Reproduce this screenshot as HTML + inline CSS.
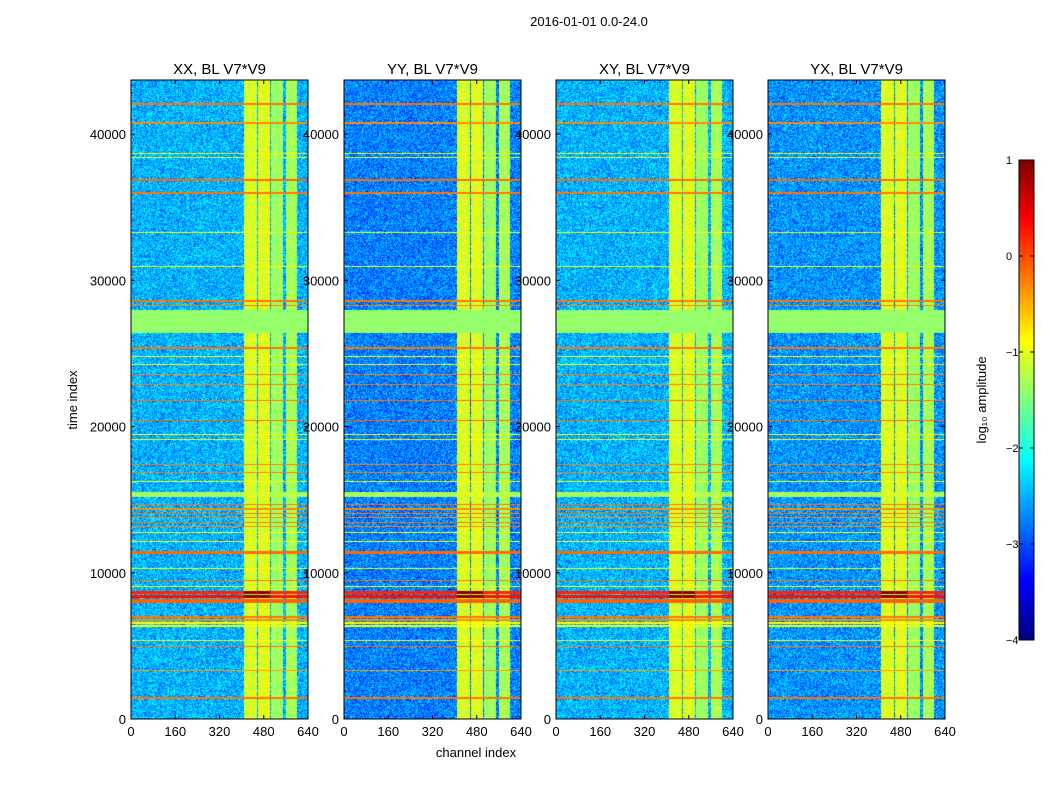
<!DOCTYPE html>
<html><head><meta charset="utf-8"><style>
body{margin:0;background:#fff;width:1050px;height:800px;overflow:hidden;position:relative;font-family:"Liberation Sans",sans-serif}
canvas{position:absolute}
svg{position:absolute;left:0;top:0}
</style></head><body>
<div id="root"></div>
<svg id="ov" width="1050" height="800"></svg>
<script>
// ---- data ----
const panelTitles = ["XX, BL V7*V9","YY, BL V7*V9","XY, BL V7*V9","YX, BL V7*V9"];
const panelLeft = [131,344,556,768];
const xTicks = [0,160,320,480,640];
const yTicks = [0,10000,20000,30000,40000];
const cbTicks = [1,0,-1,-2,-3,-4];
const bandStart = [405,456,506,557];
const bandEnd = [452,499,549,600];
const bandLevel = [-1.05,-1.0,-1.35,-1.3];
const rowTime = [42100,40800,38700,38450,36900,36000,33300,31000,28600,28300,25400,24800,24300,23600,22900,21800,20450,19500,19150,17440,16900,16280,15400,14700,14400,14100,13800,13500,13200,12800,12200,11400,10300,9500,9100,8700,8400,8100,7000,6800,6600,6400,5400,5000,3350,1450];
const rowWidth = [80,60,50,50,110,80,50,50,80,60,60,50,50,60,60,60,90,70,60,60,60,50,350,50,50,50,50,50,50,50,50,200,50,80,50,200,200,200,60,50,50,50,50,80,50,80];
const rowLevel = [-0.2,-0.3,-1.0,-1.0,-0.15,-0.2,-0.9,-0.9,-0.2,-0.25,-0.2,-0.9,-0.9,-0.25,-0.25,-0.2,-0.15,-0.9,-0.9,-0.25,-0.25,-0.9,-1.3,-0.2,-0.3,-0.2,-0.3,-0.2,-0.3,-0.9,-0.9,-0.15,-0.9,-0.2,-0.9,0.2,0.3,-0.1,-0.2,-0.3,-0.9,-0.9,-0.9,-0.2,-0.4,-0.2];
const blockStart = 26400, blockEnd = 28000, blockLevel = -1.4;
const bgLevel = [-2.5,-2.75,-2.5,-2.65];
// ---- scales ----
const W=177,H=639,TOP=80,TMAX=43700,CMAX=640;
const xs = c => c/CMAX*W;
const ys = t => H - t/TMAX*H;
function jet(v){let t=(v+4)/5;t=Math.max(0,Math.min(1,t));const f=x=>Math.max(0,Math.min(1,x));return [f(1.5-Math.abs(4*t-3))*255,f(1.5-Math.abs(4*t-2))*255,f(1.5-Math.abs(4*t-1))*255];}
function hash(a,b,c){let h=(a*374761393+b*668265263+c*2147483647)|0;h=(h^(h>>>13))*1274126177|0;return ((h^(h>>>16))>>>0)/4294967296;}
panelLeft.forEach((L,p)=>{
  const cv=document.createElement('canvas');cv.width=W;cv.height=H;cv.style.left=L+'px';cv.style.top=TOP+'px';
  
  
  document.body.insertBefore(cv,document.getElementById('ov'));
  const ctx=cv.getContext('2d');const img=ctx.createImageData(W,H);
  for(let y=0;y<H;y++){const t=(H-y)/H*TMAX;
    for(let x=0;x<W;x++){const c=x/W*CMAX;const n=hash(x,y,p);
      let v=bgLevel[p]+(n-0.5)*1.0;let inBand=-1;
      for(let b=0;b<bandStart.length;b++){if(c>=bandStart[b]&&c<bandEnd[b]){inBand=b;v=bandLevel[b]+(n-0.5)*0.6;}}
      if(t>=blockStart&&t<=blockEnd)v=blockLevel;
      for(let r=0;r<rowTime.length;r++){if(Math.abs(t-rowTime[r])<=rowWidth[r]/2+15){let lv=rowLevel[r];if(lv>0&&inBand>=0&&inBand<2)lv=1;v=Math.max(v,lv);}}
      const [R,G,B]=jet(v);const i=(y*W+x)*4;img.data[i]=R;img.data[i+1]=G;img.data[i+2]=B;img.data[i+3]=255;}}
  ctx.putImageData(img,0,0);
});
// colorbar
const cb=document.createElement('canvas');cb.width=15;cb.height=480;cb.style.left='1019px';cb.style.top='160px';


document.body.insertBefore(cb,document.getElementById('ov'));
{const c=cb.getContext('2d');for(let y=0;y<480;y++){const [R,G,B]=jet(1-y/480*5);c.fillStyle=`rgb(${R|0},${G|0},${B|0})`;c.fillRect(0,y,15,1);}}
// overlay
const ov=document.getElementById('ov');const NS='http://www.w3.org/2000/svg';
function el(tag,attrs,txt){const e=document.createElementNS(NS,tag);for(const k in attrs)e.setAttribute(k,attrs[k]);if(txt!=null)e.textContent=txt;ov.appendChild(e);return e;}
let e;
e=el('text',{x:589,y:26,'text-anchor':'middle','font-size':13},'2016-01-01 0.0-24.0');


panelLeft.forEach((L,p)=>{
  e=el('rect',{x:L,y:TOP,width:W,height:H,fill:'none',stroke:'#000','stroke-width':1});
  
  
  e=el('text',{x:L+W/2,y:74,'text-anchor':'middle','font-size':15},panelTitles[p]);
  
  
  xTicks.forEach(v=>{const x=L+xs(v);
    e=el('line',{x1:x,x2:x,y1:TOP+H,y2:TOP+H-4,stroke:'#000'});
    
    
    el('line',{x1:x,x2:x,y1:TOP,y2:TOP+4,stroke:'#000'});
    e=el('text',{x:x,y:TOP+H+17,'text-anchor':'middle','font-size':13},String(v));
    
    });
  yTicks.forEach(v=>{const y=TOP+ys(v);
    e=el('line',{x1:L,x2:L+4,y1:y,y2:y,stroke:'#000'});
    
    
    el('line',{x1:L+W,x2:L+W-4,y1:y,y2:y,stroke:'#000'});
    e=el('text',{x:L-5,y:y+5,'text-anchor':'end','font-size':13},String(v));
    
    });
});
e=el('text',{x:476,y:757,'text-anchor':'middle','font-size':13},'channel index');


e=el('text',{x:0,y:0,'text-anchor':'middle','font-size':13,transform:'translate(77,400) rotate(-90)'},'time index');


e=el('rect',{x:1019,y:160,width:15,height:480,fill:'none',stroke:'#000'});


cbTicks.forEach(v=>{const y=160+(1-v)/5*480;
  el('line',{x1:1019,x2:1023,y1:y,y2:y,stroke:'#000'});el('line',{x1:1034,x2:1030,y1:y,y2:y,stroke:'#000'});
  e=el('text',{x:1006,y:y+4,'text-anchor':'start','font-size':11},(v<0?'\u2212':'')+Math.abs(v));
  
  });
e=el('text',{x:0,y:0,'text-anchor':'middle','font-size':13,transform:'translate(986,400) rotate(-90)'},'log₁₀ amplitude');


</script>
</body></html>
